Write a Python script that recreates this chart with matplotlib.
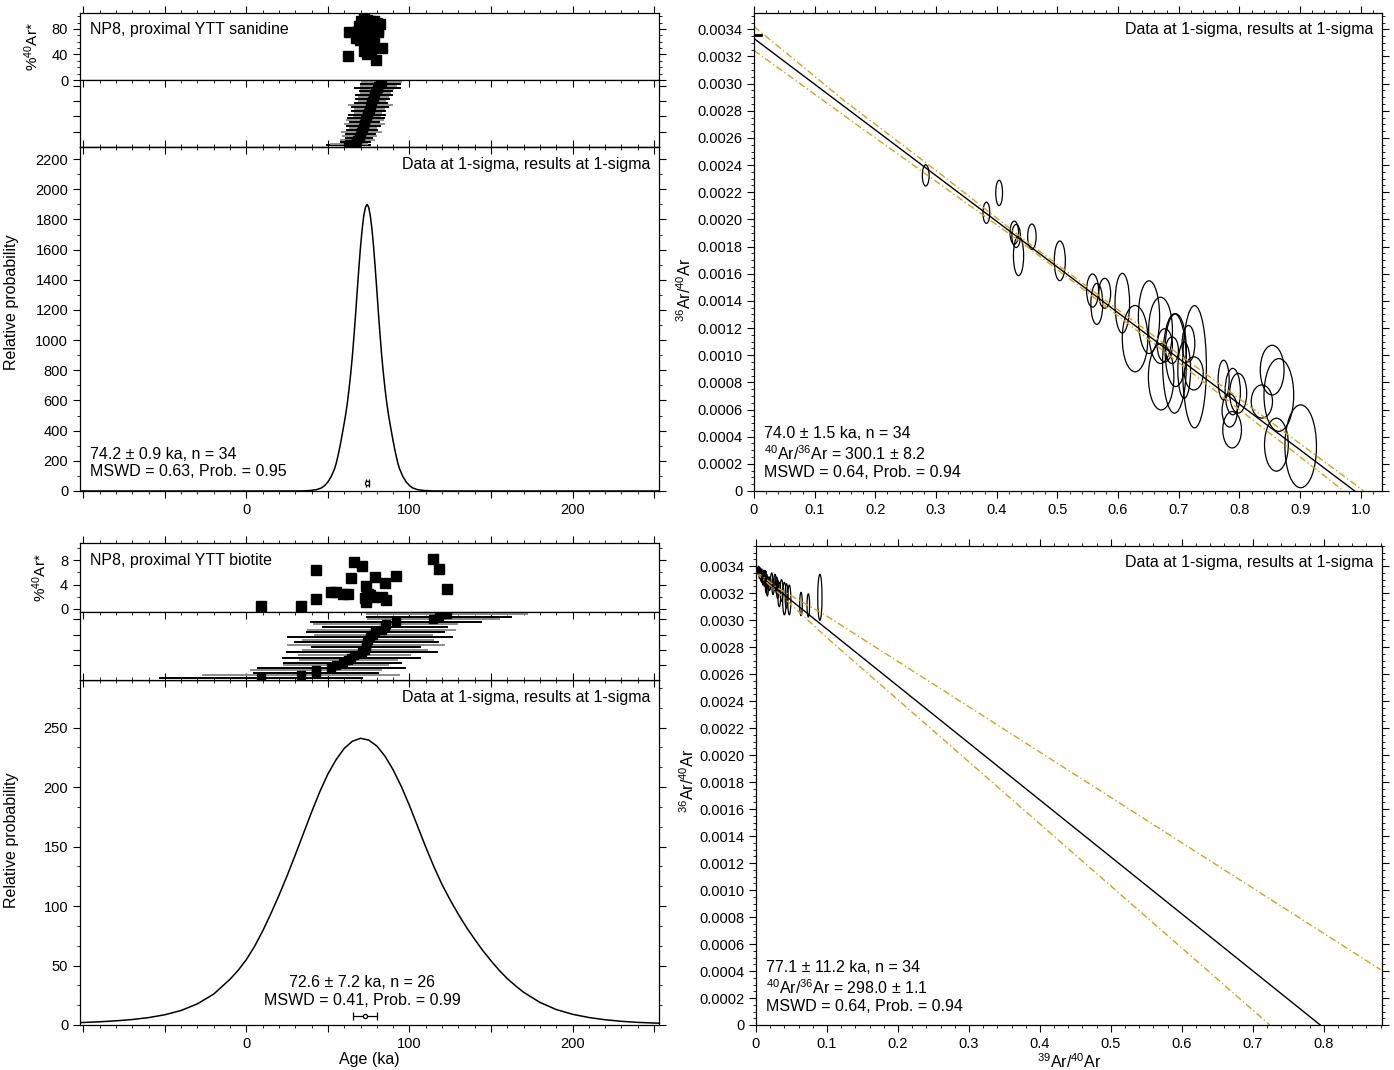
#Ar-Ar summary plots for NP8 (proximal YTT): age probability panels and inverse isochrons
import numpy as np
import matplotlib.pyplot as plt
from matplotlib.patches import Ellipse
from matplotlib.ticker import MultipleLocator, FuncFormatter, NullFormatter, AutoMinorLocator

plt.rcParams['font.family'] = ['Liberation Sans', 'DejaVu Sans']
plt.rcParams['mathtext.fontset'] = 'custom'
plt.rcParams['mathtext.rm'] = 'Liberation Sans'
plt.rcParams['mathtext.it'] = 'Liberation Sans:italic'
plt.rcParams['axes.linewidth'] = 0.9

# ---- sanidine single grains: age (ka), %40Ar*, 1-sigma age error (ka)
san_age = [63.2, 62.6, 79.5, 83.0, 70.0, 72.0, 74.0, 76.0, 78.0, 80.0, 82.0, 69.0, 71.0, 73.0,
           75.0, 77.0, 79.0, 81.0, 68.0, 70.5, 72.5, 74.5, 76.5, 78.5, 80.5, 67.0, 69.5, 71.5,
           73.5, 75.5, 77.5, 72.2, 74.2, 76.2]
san_pct = [75, 37, 31, 50, 93, 95, 94, 93, 92, 90, 88, 85, 87, 84, 86, 83, 80, 78, 76, 72,
           78, 70, 74, 68, 75, 66, 62, 65, 58, 62, 55, 45, 40, 47]
san_err = [11, 13, 10, 12, 9, 10, 8, 11, 9, 10, 12, 8, 9, 11, 10, 8, 9, 11, 10, 12, 9, 8, 10,
           11, 14, 9, 10, 8, 11, 9, 10, 12, 11, 13]

# ---- biotite single grains
bt_age = [9.2, 33.6, 42.6, 42.6, 52.0, 55.0, 59.1, 62.6, 64.2, 66.1, 71.1, 72.5, 73.4,
          73.4, 73.8, 74.6, 75.8, 77.9, 78.9, 83.0, 85.0, 85.4, 91.7, 114.6, 118.0, 123.1]
bt_pct = [0.5, 0.5, 1.6, 6.3, 2.7, 2.8, 2.4, 2.4, 5.0, 7.7, 7.0, 1.8, 3.8, 1.2, 2.0, 2.5,
          2.3, 2.0, 5.2, 2.0, 4.3, 1.5, 5.4, 8.1, 6.5, 3.2]
bt_err = [62, 60, 38, 40, 45, 32, 36, 30, 42, 34, 46, 38, 33, 48, 44, 40, 50, 36, 42, 45,
          38, 44, 52, 40, 44, 49]

# ---- probability curves
san_curve_age = [-102, 24, 34, 39, 43, 46, 48, 50, 52, 54, 55, 56, 57, 58, 59, 60, 61, 62, 63,
                 64, 65, 66, 67, 68, 69, 70, 71, 72, 73, 74, 75, 76, 77, 78, 79, 80, 81, 82,
                 83, 84, 85, 86, 87, 88, 89, 90, 91, 92, 93, 94, 96, 98, 100, 102, 105, 109,
                 114, 124, 253]
san_curve_prob = [0, 0, 0.5, 3, 9, 20, 36, 60, 95, 145, 180, 225, 275, 330, 390, 450, 515,
                  590, 680, 780, 895, 1030, 1175, 1330, 1480, 1620, 1735, 1825, 1880, 1900,
                  1880, 1825, 1735, 1620, 1480, 1330, 1175, 1030, 895, 780, 680, 590, 515,
                  450, 390, 330, 275, 225, 180, 145, 95, 60, 36, 20, 9, 3, 0.5, 0, 0]
bt_curve_age = [-102, -90, -80, -70, -60, -50, -40, -30, -20, -10, -5, 0, 5, 10, 15, 20, 25,
                30, 35, 40, 45, 50, 55, 60, 65, 70, 75, 80, 85, 90, 95, 100, 105, 110, 115,
                120, 125, 130, 135, 140, 145, 150, 155, 160, 165, 170, 180, 190, 200, 210,
                220, 230, 240, 253]
bt_curve_prob = [2.0, 2.7, 3.5, 4.6, 6.2, 8.6, 12.2, 17.8, 26, 38.5, 46, 55, 66, 79, 93.5,
                 109, 125.5, 143, 161, 179, 196, 211, 223, 232.5, 238.5, 241, 239.5, 234.5,
                 226, 214.5, 200.5, 184.5, 167, 149.5, 133, 118, 105, 93, 82, 72, 62.5, 54,
                 46, 39, 33, 27.5, 19, 13, 9, 6.3, 4.4, 3.1, 2.2, 1.5]

# ---- weighted means (ka, 1-sigma)
san_mean, san_mean_err = 74.2, 0.9
bt_mean, bt_mean_err = 72.6, 7.2

# ---- sanidine inverse isochron: 39Ar/40Ar, 36Ar/40Ar, half-widths
san_x = [0.283, 0.404, 0.383, 0.429, 0.432, 0.436, 0.458, 0.504, 0.558, 0.565, 0.578, 0.607,
         0.628, 0.651, 0.670, 0.671, 0.677, 0.693, 0.695, 0.709, 0.716, 0.726, 0.725, 0.774,
         0.784, 0.789, 0.798, 0.788, 0.837, 0.854, 0.865, 0.861, 0.901, 0.689]
san_y = [0.002324, 0.002195, 0.002049, 0.001902, 0.001878, 0.001732, 0.001873, 0.001695,
         0.001476, 0.001378, 0.001456, 0.001383, 0.001122, 0.001280, 0.001183, 0.000841,
         0.001073, 0.000939, 0.001037, 0.000890, 0.001085, 0.000915, 0.000866, 0.000817,
         0.000593, 0.000732, 0.000720, 0.000451, 0.000659, 0.000890, 0.000707, 0.000341,
         0.000329, 0.001037]
san_sx = [0.0056, 0.0056, 0.0056, 0.0070, 0.0070, 0.0084, 0.0070, 0.0091, 0.0098, 0.0098,
          0.0098, 0.0120, 0.0210, 0.0175, 0.0196, 0.0210, 0.0126, 0.0196, 0.0175, 0.0105,
          0.0105, 0.0196, 0.0154, 0.0091, 0.0126, 0.0126, 0.0140, 0.0154, 0.0175, 0.0196,
          0.0245, 0.0196, 0.0260, 0.0105]
san_sy = [0.000078, 0.000093, 0.000078, 0.000085, 0.000085, 0.000146, 0.000093, 0.000146,
          0.000122, 0.000151, 0.000110, 0.000220, 0.000244, 0.000268, 0.000244, 0.000244,
          0.000122, 0.000366, 0.000268, 0.000207, 0.000134, 0.000450, 0.000122, 0.000146,
          0.000122, 0.000171, 0.000146, 0.000134, 0.000122, 0.000183, 0.000268, 0.000195,
          0.000305, 0.000098]

# ---- biotite inverse isochron
bt_x = [0.002, 0.003, 0.0035, 0.004, 0.005, 0.0055, 0.006, 0.007, 0.008, 0.0085, 0.009,
        0.010, 0.011, 0.012, 0.0125, 0.013, 0.0145, 0.015, 0.016, 0.0174, 0.019, 0.0221,
        0.024, 0.0268, 0.029, 0.0305, 0.0328, 0.036, 0.040, 0.043, 0.0469, 0.0634, 0.0737,
        0.090]
bt_y = [0.00337, 0.00336, 0.00338, 0.003365, 0.00334, 0.00336, 0.00335, 0.00333, 0.00334,
        0.00332, 0.00332, 0.00331, 0.00333, 0.00330, 0.00333, 0.00331, 0.00326, 0.00329,
        0.00324, 0.00328, 0.00327, 0.00330, 0.00325, 0.00328, 0.00326, 0.00323, 0.00319,
        0.00322, 0.00316, 0.00318, 0.00315, 0.00312, 0.00311, 0.00317]
bt_sx = [0.0010, 0.0010, 0.0010, 0.0010, 0.0010, 0.0010, 0.0012, 0.0012, 0.0012, 0.0012,
         0.0012, 0.0013, 0.0013, 0.0013, 0.0013, 0.0013, 0.0014, 0.0014, 0.0014, 0.0015,
         0.0015, 0.0015, 0.0015, 0.0015, 0.0016, 0.0016, 0.0020, 0.0020, 0.0025, 0.0020,
         0.0022, 0.0018, 0.0018, 0.0030]
bt_sy = [0.00002, 0.00002, 0.00002, 0.00003, 0.00003, 0.00003, 0.00003, 0.00004, 0.00004,
         0.00004, 0.00004, 0.00005, 0.00004, 0.00005, 0.00004, 0.00004, 0.00006, 0.00005,
         0.00006, 0.00004, 0.00005, 0.00005, 0.00006, 0.00006, 0.00006, 0.00007, 0.00009,
         0.00008, 0.00012, 0.00009, 0.00011, 0.000086, 0.000086, 0.00017]

# ---- regression lines and error envelopes (x, y vertices)
san_fit_x, san_fit_y = [0.0, 0.99], [0.003332, 0.0]
san_up_x = [0.0, 0.15, 0.3, 0.45, 0.6, 0.8, 1.005]
san_up_y = [0.00342, 0.00287, 0.00236, 0.001835, 0.001335, 0.00068, 0.0]
san_lo_x = [0.0, 0.15, 0.3, 0.45, 0.6, 0.8, 0.972]
san_lo_y = [0.003245, 0.00276, 0.00228, 0.00180, 0.00129, 0.00060, 0.0]
bt_fit_x, bt_fit_y = [0.0, 0.795], [0.003356, 0.0]
bt_up_x, bt_up_y = [0.0, 0.03, 0.1, 0.88], [0.003362, 0.00324, 0.00303, 0.00041]
bt_lo_x, bt_lo_y = [0.0, 0.03, 0.1, 0.724], [0.003350, 0.00321, 0.00287, 0.0]
atm_ratio = 0.003357

ORANGE = '#d4a21e'
W_PX, H_PX = 1394, 1070
fig = plt.figure(figsize=(W_PX / 100, H_PX / 100), dpi=100)


def px_axes(x0, y0, x1, y1):
    return fig.add_axes([x0 / W_PX, 1 - y1 / H_PX, (x1 - x0) / W_PX, (y1 - y0) / H_PX])


def age_ticks(ax):
    ax.set_xlim(-102, 253)
    ax.xaxis.set_major_locator(MultipleLocator(50))
    ax.xaxis.set_minor_locator(MultipleLocator(10))
    ax.xaxis.set_major_formatter(FuncFormatter(
        lambda v, p: '%d' % v if (v % 100 == 0 and v >= 0) else ''))


def age_panel(ax_pct, ax_rank, ax_prob, ages, pct, errs, curve_x, curve_y, mean, mean_err,
              mean_y, pct_lim, pct_major, pct_minor, prob_lim, prob_major, prob_minor, title,
              stats, stats_pos, stats_ha, label_y):
    # percent radiogenic argon
    ax_pct.plot(ages, pct, 's', color='black', ms=6.5)
    age_ticks(ax_pct)
    ax_pct.set_ylim(*pct_lim)
    ax_pct.yaxis.set_major_locator(MultipleLocator(pct_major))
    ax_pct.yaxis.set_minor_locator(MultipleLocator(pct_minor))
    ax_pct.tick_params(axis='x', which='both', direction='out', top=True, bottom=False,
                       labelbottom=False)
    ax_pct.tick_params(axis='y', which='both', direction='out', right=True, labelsize=10.5)
    ax_pct.tick_params(which='major', length=5)
    ax_pct.tick_params(which='minor', length=2.5)
    ax_pct.set_ylabel('%$^{40}$Ar*', fontsize=11, labelpad=8)
    ax_pct.text(0.018, 0.75, title, transform=ax_pct.transAxes, fontsize=11.5, va='center')

    # ranked ages with error bars
    order = np.argsort(ages, kind='stable')
    a = np.asarray(ages)[order]
    e = np.asarray(errs)[order]
    rank = np.arange(1, len(a) + 1)
    for i in range(len(a)):
        col = '#000000' if i % 2 == 0 else '#8c8c8c'
        ax_rank.plot([a[i] - e[i], a[i] + e[i]], [rank[i], rank[i]], color=col, lw=1.4)
    ax_rank.plot(a, rank, 's', color='black', ms=6)
    age_ticks(ax_rank)
    ax_rank.set_ylim(0.2, len(a) + 0.9)
    ax_rank.yaxis.set_major_locator(MultipleLocator(max(2, len(a) // 4)))
    ax_rank.yaxis.set_major_formatter(NullFormatter())
    ax_rank.tick_params(axis='x', which='both', direction='in', top=True, bottom=True,
                        labelbottom=False)
    ax_rank.tick_params(axis='y', which='both', direction='out', right=True)
    ax_rank.tick_params(which='major', length=5)
    ax_rank.tick_params(which='minor', length=2.5)

    # probability curve
    ax_prob.plot(curve_x, curve_y, color='black', lw=1.1)
    ax_prob.errorbar([mean], [mean_y], xerr=[mean_err], fmt='o', color='black', ms=3,
                     mfc='white', mew=0.9, capsize=3, elinewidth=0.9, capthick=0.9)
    age_ticks(ax_prob)
    ax_prob.set_ylim(*prob_lim)
    ax_prob.yaxis.set_major_locator(MultipleLocator(prob_major))
    ax_prob.yaxis.set_minor_locator(prob_minor)
    ax_prob.tick_params(axis='x', which='both', direction='out', top=False, labelsize=10.5)
    ax_prob.tick_params(axis='y', which='both', direction='out', right=True, labelsize=10.5)
    ax_prob.tick_params(which='major', length=5)
    ax_prob.tick_params(which='minor', length=2.5)
    sec = ax_prob.secondary_xaxis('top')
    sec.xaxis.set_major_locator(MultipleLocator(50))
    sec.xaxis.set_minor_locator(MultipleLocator(10))
    sec.tick_params(which='both', direction='in', labeltop=False)
    sec.tick_params(which='major', length=5)
    sec.tick_params(which='minor', length=2.5)
    ax_prob.set_ylabel('Relative probability', fontsize=11.5)
    ax_prob.yaxis.set_label_coords(-0.105, label_y)
    ax_prob.text(0.985, 0.95, 'Data at 1-sigma, results at 1-sigma', transform=ax_prob.transAxes,
                 fontsize=11.5, ha='right', va='center')
    ax_prob.text(stats_pos[0], stats_pos[1], stats, transform=ax_prob.transAxes, fontsize=11.5,
                 ha=stats_ha, va='bottom', multialignment=stats_ha, linespacing=1.2)


def isochron_panel(ax, xs, ys, sxs, sys_, fit, up, lo, xlim, ylim, stats, label_y):
    for x, y, sx, sy in zip(xs, ys, sxs, sys_):
        ax.add_patch(Ellipse((x, y), 2 * sx, 2 * sy, fill=False, ec='black', lw=0.9))
    ax.plot(fit[0], fit[1], color='black', lw=1.0)
    ax.plot(up[0], up[1], color=ORANGE, lw=1.0, ls=(0, (5, 2, 1, 2)))
    ax.plot(lo[0], lo[1], color=ORANGE, lw=1.0, ls=(0, (5, 2, 1, 2)))
    ax.plot([0, 0.012], [atm_ratio, atm_ratio], color='black', lw=2)
    ax.set_xlim(*xlim)
    ax.set_ylim(*ylim)
    ax.xaxis.set_major_locator(MultipleLocator(0.1))
    ax.xaxis.set_minor_locator(MultipleLocator(0.02))
    ax.xaxis.set_major_formatter(FuncFormatter(lambda v, p: '0' if abs(v) < 1e-9 else '%.1f' % v))
    ax.yaxis.set_major_locator(MultipleLocator(0.0002))
    ax.yaxis.set_minor_locator(MultipleLocator(0.00005))
    ax.yaxis.set_major_formatter(FuncFormatter(lambda v, p: '0' if abs(v) < 1e-12 else '%.4f' % v))
    ax.tick_params(which='both', direction='out', top=True, right=True, labelsize=10.5)
    ax.tick_params(which='major', length=5)
    ax.tick_params(which='minor', length=2.5)
    ax.set_ylabel('$^{36}$Ar/$^{40}$Ar', fontsize=11.5)
    ax.yaxis.set_label_coords(-0.095, label_y)
    ax.text(0.986, 0.966, 'Data at 1-sigma, results at 1-sigma', transform=ax.transAxes,
            fontsize=11.5, ha='right', va='center')
    ax.text(0.016, 0.022, stats, transform=ax.transAxes, fontsize=11.5, ha='left', va='bottom',
            linespacing=1.2)


# top row: sanidine
age_panel(px_axes(80, 13, 659, 80), px_axes(80, 80, 659, 147), px_axes(80, 147, 659, 491),
          san_age, san_pct, san_err, san_curve_age, san_curve_prob, san_mean, san_mean_err, 53,
          (0, 105), 40, 10, (0, 2280), 200, MultipleLocator(100), 'NP8, proximal YTT sanidine',
          '74.2 ± 0.9 ka, n = 34\nMSWD = 0.63, Prob. = 0.95', (0.017, 0.035), 'left', 0.55)

# bottom row: biotite
ax_bt_prob = px_axes(80, 680, 659, 1025)
age_panel(px_axes(80, 543, 659, 612), px_axes(80, 612, 659, 680), ax_bt_prob,
          bt_age, bt_pct, bt_err, bt_curve_age, bt_curve_prob, bt_mean, bt_mean_err, 7.6,
          (-0.5, 10.8), 4, 2, (0, 290), 50, AutoMinorLocator(3), 'NP8, proximal YTT biotite',
          '72.6 ± 7.2 ka, n = 26\nMSWD = 0.41, Prob. = 0.99', (0.487, 0.05), 'center', 0.535)
ax_bt_prob.set_xlabel('Age (ka)', fontsize=11.5, labelpad=1)

ax_san_iso = px_axes(754, 13, 1382, 491)
isochron_panel(ax_san_iso, san_x, san_y, san_sx, san_sy, (san_fit_x, san_fit_y),
               (san_up_x, san_up_y), (san_lo_x, san_lo_y), (0, 1.035), (0, 0.00352),
               '74.0 ± 1.5 ka, n = 34\n$^{40}$Ar/$^{36}$Ar = 300.1 ± 8.2\nMSWD = 0.64, Prob. = 0.94',
               0.42)

ax_bt_iso = px_axes(756, 546, 1382, 1025)
isochron_panel(ax_bt_iso, bt_x, bt_y, bt_sx, bt_sy, (bt_fit_x, bt_fit_y),
               (bt_up_x, bt_up_y), (bt_lo_x, bt_lo_y), (0, 0.882), (0, 0.00355),
               '77.1 ± 11.2 ka, n = 34\n$^{40}$Ar/$^{36}$Ar = 298.0 ± 1.1\nMSWD = 0.64, Prob. = 0.94',
               0.51)
ax_bt_iso.set_xlabel('$^{39}$Ar/$^{40}$Ar', fontsize=11.5, labelpad=1)

fig.savefig('out.png', dpi=100)
